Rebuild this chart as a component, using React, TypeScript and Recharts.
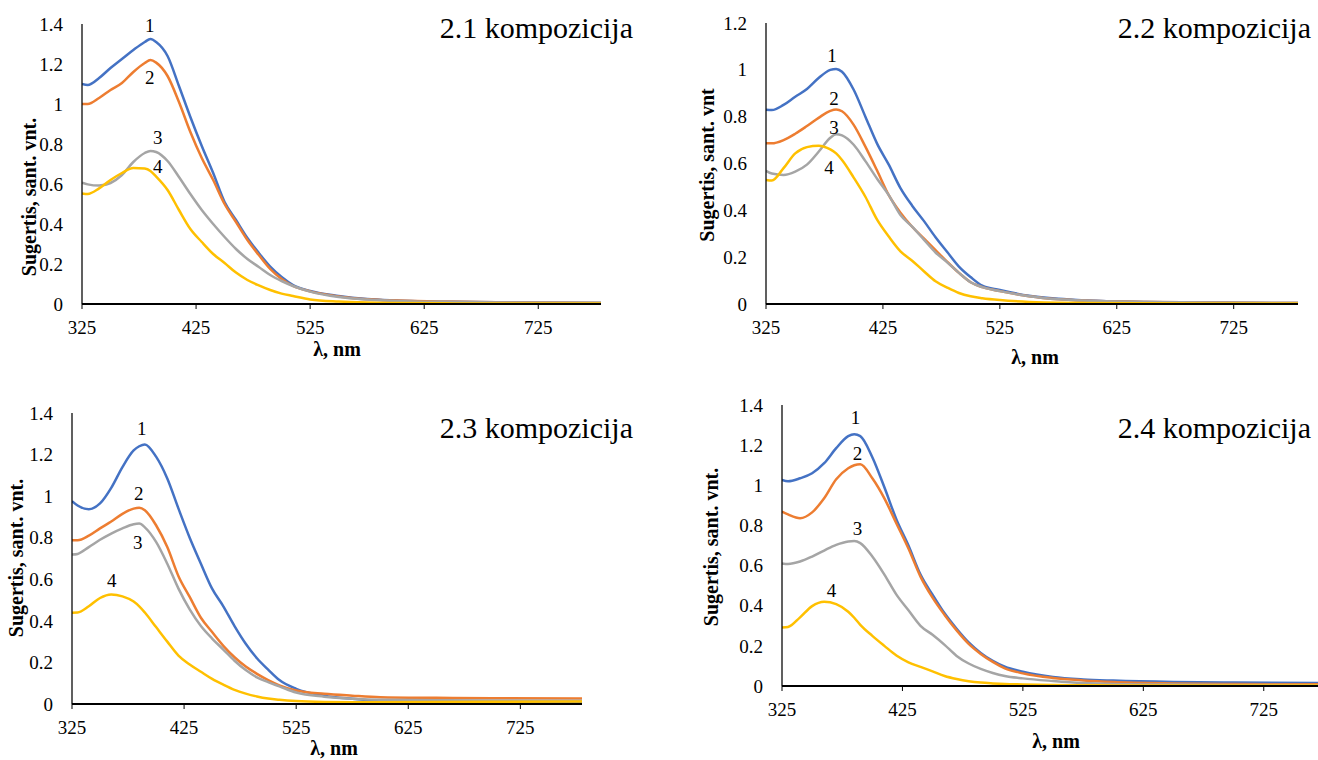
import React from 'react';
import { LineChart, Line, XAxis, YAxis, ReferenceDot } from 'recharts';

// wavelengths, nm
const wavelengths = [325, 330, 340, 350, 360, 370, 380, 385, 390, 400, 410, 420, 430, 440, 450, 460, 470, 480, 490, 500, 510, 525, 550, 575, 600, 650, 700, 780];
const xTicks = [325, 425, 525, 625, 725];

// 2.1 kompozicija
const p1s1 = [1.10, 1.095, 1.13, 1.18, 1.225, 1.27, 1.31, 1.325, 1.31, 1.24, 1.09, 0.935, 0.79, 0.655, 0.51, 0.42, 0.33, 0.255, 0.187, 0.135, 0.095, 0.065, 0.04, 0.025, 0.018, 0.011, 0.008, 0.005];
const p1s2 = [1.0, 1.0, 1.03, 1.07, 1.105, 1.16, 1.205, 1.22, 1.207, 1.14, 1.01, 0.86, 0.73, 0.62, 0.50, 0.41, 0.32, 0.245, 0.175, 0.125, 0.09, 0.063, 0.038, 0.024, 0.017, 0.011, 0.008, 0.005];
const p1s3 = [0.607, 0.598, 0.592, 0.605, 0.645, 0.71, 0.755, 0.765, 0.76, 0.715, 0.635, 0.55, 0.47, 0.40, 0.335, 0.275, 0.225, 0.185, 0.145, 0.115, 0.09, 0.062, 0.035, 0.022, 0.015, 0.01, 0.007, 0.006];
const p1s4 = [0.553, 0.55, 0.578, 0.62, 0.655, 0.68, 0.677, 0.665, 0.637, 0.57, 0.47, 0.375, 0.31, 0.25, 0.205, 0.157, 0.12, 0.093, 0.07, 0.052, 0.04, 0.023, 0.012, 0.007, 0.005, 0.003, 0.002, 0.002];

// 2.2 kompozicija
const p2s1 = [0.83, 0.828, 0.85, 0.885, 0.918, 0.965, 1.0, 1.004, 0.992, 0.915, 0.80, 0.685, 0.595, 0.495, 0.42, 0.355, 0.285, 0.222, 0.16, 0.115, 0.078, 0.06, 0.035, 0.022, 0.015, 0.009, 0.006, 0.004];
const p2s2 = [0.686, 0.686, 0.70, 0.727, 0.76, 0.795, 0.825, 0.831, 0.823, 0.765, 0.672, 0.57, 0.465, 0.39, 0.33, 0.28, 0.23, 0.18, 0.133, 0.093, 0.072, 0.055, 0.033, 0.02, 0.014, 0.009, 0.006, 0.004];
const p2s3 = [0.569, 0.557, 0.551, 0.565, 0.595, 0.65, 0.71, 0.725, 0.72, 0.68, 0.61, 0.535, 0.465, 0.38, 0.33, 0.275, 0.22, 0.178, 0.133, 0.093, 0.072, 0.055, 0.033, 0.02, 0.014, 0.009, 0.006, 0.004];
const p2s4 = [0.53, 0.527, 0.58, 0.643, 0.67, 0.676, 0.66, 0.643, 0.615, 0.54, 0.458, 0.36, 0.288, 0.225, 0.185, 0.14, 0.097, 0.07, 0.047, 0.033, 0.025, 0.017, 0.009, 0.005, 0.004, 0.003, 0.002, 0.002];

// 2.3 kompozicija
const p3s1 = [0.976, 0.955, 0.937, 0.965, 1.04, 1.14, 1.22, 1.24, 1.249, 1.19, 1.085, 0.94, 0.80, 0.675, 0.555, 0.47, 0.375, 0.29, 0.22, 0.165, 0.115, 0.073, 0.04, 0.025, 0.015, 0.01, 0.007, 0.005];
const p3s2 = [0.788, 0.788, 0.81, 0.845, 0.878, 0.915, 0.94, 0.944, 0.932, 0.86, 0.755, 0.615, 0.515, 0.415, 0.346, 0.28, 0.225, 0.18, 0.145, 0.115, 0.09, 0.065, 0.049, 0.04, 0.033, 0.03, 0.028, 0.026];
const p3s3 = [0.719, 0.722, 0.755, 0.79, 0.82, 0.845, 0.865, 0.868, 0.85, 0.78, 0.675, 0.555, 0.455, 0.375, 0.315, 0.262, 0.208, 0.163, 0.128, 0.105, 0.085, 0.055, 0.035, 0.025, 0.02, 0.018, 0.017, 0.016];
const p3s4 = [0.439, 0.44, 0.47, 0.51, 0.527, 0.518, 0.493, 0.47, 0.44, 0.37, 0.30, 0.233, 0.19, 0.155, 0.121, 0.093, 0.068, 0.05, 0.036, 0.026, 0.02, 0.014, 0.01, 0.009, 0.009, 0.01, 0.011, 0.012];

// 2.4 kompozicija
const p4s1 = [1.027, 1.02, 1.035, 1.06, 1.11, 1.185, 1.245, 1.254, 1.245, 1.14, 0.99, 0.83, 0.70, 0.555, 0.455, 0.362, 0.285, 0.217, 0.165, 0.125, 0.096, 0.071, 0.045, 0.033, 0.027, 0.02, 0.017, 0.015];
const p4s2 = [0.869, 0.855, 0.836, 0.865, 0.935, 1.03, 1.085, 1.10, 1.105, 1.035, 0.935, 0.81, 0.685, 0.545, 0.44, 0.354, 0.277, 0.21, 0.16, 0.12, 0.088, 0.063, 0.04, 0.028, 0.02, 0.013, 0.01, 0.008];
const p4s3 = [0.611, 0.608, 0.62, 0.645, 0.675, 0.703, 0.72, 0.722, 0.712, 0.645, 0.555, 0.455, 0.377, 0.30, 0.255, 0.205, 0.15, 0.112, 0.085, 0.065, 0.05, 0.038, 0.025, 0.015, 0.01, 0.007, 0.005, 0.004];
const p4s4 = [0.291, 0.294, 0.342, 0.398, 0.42, 0.408, 0.37, 0.34, 0.305, 0.25, 0.20, 0.152, 0.118, 0.095, 0.073, 0.05, 0.035, 0.024, 0.017, 0.013, 0.01, 0.008, 0.005, 0.004, 0.003, 0.002, 0.002, 0.002];

const seriesNames = ['1', '2', '3', '4'];
const colors = ['#4472C4', '#ED7D31', '#A5A5A5', '#FFC000'];

const titles = ['2.1 kompozicija', '2.2 kompozicija', '2.3 kompozicija', '2.4 kompozicija'];
const yTitles = ['Sugertis, sant. vnt.', 'Sugertis, sant. vnt', 'Sugertis, sant. vnt.', 'Sugertis, sant. vnt.'];
const xTitle = 'λ, nm';
const yMaxes = [1.4, 1.2, 1.4, 1.4];

// curve number labels [wavelength, value]
const p1Labels = [[384.4, 1.395], [384.4, 1.135], [391.4, 0.835], [391.4, 0.69]];
const p2Labels = [[381.4, 1.063], [383.1, 0.88], [383.1, 0.756], [378.8, 0.585]];
const p3Labels = [[387.2, 1.328], [384.6, 1.014], [383.7, 0.778], [360.4, 0.595]];
const p4Labels = [[386.1, 1.34], [387.7, 1.161], [387.7, 0.787], [366.1, 0.478]];

const panelSeries = [
  [p1s1, p1s2, p1s3, p1s4],
  [p2s1, p2s2, p2s3, p2s4],
  [p3s1, p3s2, p3s3, p3s4],
  [p4s1, p4s2, p4s3, p4s4],
];
const panelLabels = [p1Labels, p2Labels, p3Labels, p4Labels];

// layout (page px)
const layout = [
  { cl: 0, ct: 0, pl: 82, pr: 601, pt: 24, pb: 304, title: [633, 38], xt: [337, 356], yt: [29, 197] },
  { cl: 660, ct: 0, pl: 766, pr: 1298, pt: 23, pb: 304, title: [1311, 38], xt: [1035, 364], yt: [707, 165] },
  { cl: 0, ct: 390, pl: 72, pr: 582, pt: 413, pb: 704, title: [633, 438], xt: [334, 755], yt: [16, 558] },
  { cl: 660, ct: 390, pl: 782, pr: 1330, pt: 405, pb: 686, title: [1311, 438], xt: [1056, 748], yt: [711, 547] },
];

const FONT = '"Liberation Serif", "Times New Roman", serif';

const fmt = (v: number) => String(Number(v.toFixed(1)));

const XTick = (props: any) => {
  const { x, y, payload } = props;
  return (
    <text x={x} y={y} textAnchor="middle" dy="0.71em" fontSize={19} fontFamily={FONT} fill="#000">
      {payload.value}
    </text>
  );
};

const YTick = (props: any) => {
  const { x, y, payload } = props;
  return (
    <text x={x} y={y} textAnchor="end" dy="0.35em" fontSize={19} fontFamily={FONT} fill="#000">
      {fmt(payload.value)}
    </text>
  );
};

function Panel({ idx }: { idx: number }) {
  const L = layout[idx];
  const series = panelSeries[idx];
  const data = wavelengths.map((w, i) => ({ x: w, s1: series[0][i], s2: series[1][i], s3: series[2][i], s4: series[3][i] }));
  const yMax = yMaxes[idx];
  const yTicks: number[] = [];
  for (let v = 0; v <= yMax + 1e-9; v += 0.2) yTicks.push(Number(v.toFixed(1)));
  const width = L.pr - L.cl + 12;
  const height = L.pb - L.ct + 40;
  return (
    <div style={{ position: 'absolute', left: L.cl, top: L.ct }}>
      <LineChart width={width} height={height} data={data} margin={{ top: L.pt - L.ct, right: 12, bottom: 0, left: 0 }}>
        <XAxis
          dataKey="x"
          type="number"
          domain={[325, 780]}
          ticks={xTicks}
          height={40}
          axisLine={{ stroke: '#000', strokeWidth: 2 }}
          tickLine={{ stroke: '#000', strokeWidth: 1 }}
          tickSize={5}
          tickMargin={12}
          tick={XTick}
          allowDataOverflow
        />
        <YAxis
          type="number"
          domain={[0, yMax]}
          ticks={yTicks}
          width={L.pl - L.cl}
          axisLine={{ stroke: '#000', strokeWidth: 1.25 }}
          tickLine={false}
          tickSize={0}
          tickMargin={19}
          tick={YTick}
          allowDataOverflow
        />
        {['s1', 's2', 's3', 's4'].map((k, i) => (
          <Line key={k} dataKey={k} type="monotone" stroke={colors[i]} strokeWidth={2.5} dot={false} isAnimationActive={false} />
        ))}
        {panelLabels[idx].map((p, i) => (
          <ReferenceDot
            key={'lbl' + i}
            x={p[0]}
            y={p[1]}
            r={0}
            shape={(sp: any) => (
              <text x={sp.cx} y={sp.cy} textAnchor="middle" dy="0.35em" fontSize={19} fontFamily={FONT} fill="#000">
                {seriesNames[i]}
              </text>
            )}
          />
        ))}
      </LineChart>
    </div>
  );
}

export default function App() {
  return (
    <div style={{ position: 'absolute', left: 0, top: 0, width: 1318, height: 760, overflow: 'hidden', background: '#fff' }}>
      {[0, 1, 2, 3].map((i) => (
        <Panel key={i} idx={i} />
      ))}
      <svg width={1318} height={760} style={{ position: 'absolute', left: 0, top: 0, pointerEvents: 'none' }}>
        {layout.map((L, i) => (
          <g key={i}>
            <text x={L.title[0]} y={L.title[1]} textAnchor="end" fontSize={30} fontFamily={FONT} fill="#000">
              {titles[i]}
            </text>
            <text x={L.xt[0]} y={L.xt[1]} textAnchor="middle" fontSize={20} fontWeight="bold" fontFamily={FONT} fill="#000">
              {xTitle}
            </text>
            <text transform={`translate(${L.yt[0]},${L.yt[1]}) rotate(-90)`} textAnchor="middle" dy="0.35em" fontSize={20} fontWeight="bold" fontFamily={FONT} fill="#000">
              {yTitles[i]}
            </text>
          </g>
        ))}
      </svg>
    </div>
  );
}
